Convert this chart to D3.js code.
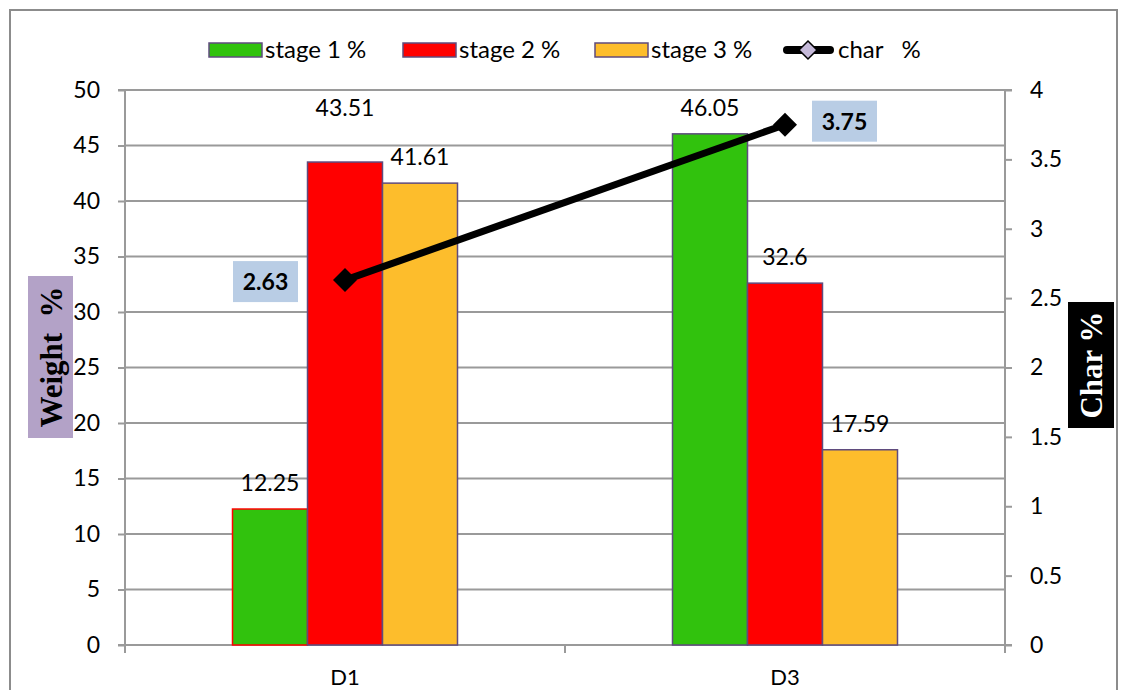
<!DOCTYPE html>
<html>
<head>
<meta charset="utf-8">
<script src="https://cdn.jsdelivr.net/npm/d3@7"></script>
<style>
  html, body { margin: 0; padding: 0; background: #fff; }
  svg { display: block; }
  text { font-family: Lato, "Open Sans", sans-serif; fill: #000; }
</style>
</head>
<body>
<svg id="chart" width="1122" height="690"></svg>
<script>
// ---- data ----
const categories = ["D1", "D3"];
const seriesNames = ["stage 1 %", "stage 2 %", "stage 3 %"];
const stage1 = [12.25, 46.05];
const stage2 = [43.51, 32.6];
const stage3 = [41.61, 17.59];
const charValues = [2.63, 3.75];
const charName = "char   %";
const leftTicks = [0, 5, 10, 15, 20, 25, 30, 35, 40, 45, 50];
const rightTicks = [0, 0.5, 1, 1.5, 2, 2.5, 3, 3.5, 4];

// ---- layout ----
const W = 1122, H = 690;
const plot = { left: 125, right: 1005, top: 90, bottom: 645 };
const colors = ["#31c20d", "#ff0000", "#fdbd2c"];
const barStroke = "#5f4b7e";
const gridColor = "#9a9a9a";
const serif = "'Liberation Serif', 'DejaVu Serif', serif";

const svg = d3.select("#chart");

// outer frame
svg.append("rect")
  .attr("x", 10).attr("y", 10).attr("width", 1107).attr("height", H + 10)
  .attr("fill", "none").attr("stroke", "#8c8c8c").attr("stroke-width", 2);

// scales
const x = d3.scaleBand().domain(categories).range([plot.left, plot.right]).padding(0);
const barW = 75;
const xSub = d3.scaleBand().domain(seriesNames).range([0, barW * 3]).padding(0);
const yL = d3.scaleLinear().domain([0, 50]).range([plot.bottom, plot.top]);
const yR = d3.scaleLinear().domain([0, 4]).range([plot.bottom, plot.top]);

// gridlines
svg.append("g").selectAll("line").data(leftTicks.filter(d => d > 0)).join("line")
  .attr("x1", plot.left).attr("x2", plot.right)
  .attr("y1", d => yL(d)).attr("y2", d => yL(d))
  .attr("stroke", gridColor).attr("stroke-width", 2);

// left axis
const axL = d3.axisLeft(yL).tickValues(leftTicks).tickSize(7).tickPadding(18).tickFormat(d3.format("d"));
const gL = svg.append("g").attr("transform", `translate(${plot.left},0)`).call(axL);
// right axis
const axR = d3.axisRight(yR).tickValues(rightTicks).tickSize(7).tickPadding(18).tickFormat(d => String(d));
const gR = svg.append("g").attr("transform", `translate(${plot.right},0)`).call(axR);
// bottom axis: ticks at band boundaries
const boundaries = [plot.left].concat(categories.map(c => x(c) + x.bandwidth()));
const gB = svg.append("g");
gB.append("line").attr("x1", plot.left - 7).attr("x2", plot.right + 7)
  .attr("y1", plot.bottom).attr("y2", plot.bottom)
  .attr("stroke", gridColor).attr("stroke-width", 2);
gB.selectAll("line.tk").data(boundaries).join("line").attr("class", "tk")
  .attr("x1", d => d).attr("x2", d => d)
  .attr("y1", plot.bottom).attr("y2", plot.bottom + 8)
  .attr("stroke", gridColor).attr("stroke-width", 2);
gB.selectAll("text").data(categories).join("text")
  .attr("x", d => x(d) + x.bandwidth() / 2).attr("y", 685)
  .attr("text-anchor", "middle").attr("font-size", 22).text(d => d);

[gL, gR].forEach(g => {
  g.select(".domain").attr("stroke", gridColor).attr("stroke-width", 2);
  g.selectAll(".tick line").attr("stroke", gridColor).attr("stroke-width", 2);
  g.selectAll(".tick text").attr("font-size", 23).style("font-family", "Lato, sans-serif").attr("fill", "#000");
});
gL.select(".domain").attr("d", `M-7,${plot.top}H0V${plot.bottom}H-7`);
gR.select(".domain").attr("d", `M7,${plot.top}H0V${plot.bottom}H7`);

// bars
const series = [stage1, stage2, stage3];
const groupOffset = (x.bandwidth() - barW * 3) / 2;
const bars = [];
categories.forEach((c, i) => {
  series.forEach((s, j) => {
    bars.push({ cat: c, ci: i, name: seriesNames[j], sj: j, value: s[i] });
  });
});
// first bar of D1 carries a red outline
const strokeFor = d => (d.ci === 0 && d.sj === 0) ? "#ff0000" : barStroke;
svg.append("g").selectAll("rect").data(bars).join("rect")
  .attr("x", d => x(d.cat) + groupOffset + xSub(d.name))
  .attr("y", d => yL(d.value))
  .attr("width", xSub.bandwidth())
  .attr("height", d => yL(0) - yL(d.value))
  .attr("fill", d => colors[d.sj])
  .attr("stroke", strokeFor).attr("stroke-width", 1.5);

// bar value labels (the tall D1 red one is lifted above the gridline)
const liftFor = d => (d.ci === 0 && d.sj === 1) ? 28 : 0;
svg.append("g").selectAll("text").data(bars).join("text")
  .attr("x", d => x(d.cat) + groupOffset + xSub(d.name) + xSub.bandwidth() / 2)
  .attr("y", d => yL(d.value) - 18 - liftFor(d))
  .attr("text-anchor", "middle").attr("font-size", 23)
  .text(d => String(d.value));

// char % line
const linePts = categories.map((c, i) => ({ x: x(c) + x.bandwidth() / 2, y: yR(charValues[i]), v: charValues[i] }));
svg.append("path").datum(linePts)
  .attr("d", d3.line().x(d => d.x).y(d => d.y))
  .attr("fill", "none").attr("stroke", "#000").attr("stroke-width", 7);
const diamond = r => `M0,${-r}L${r},0L0,${r}L${-r},0Z`;
svg.append("g").selectAll("path").data(linePts).join("path")
  .attr("transform", d => `translate(${d.x},${d.y})`)
  .attr("d", diamond(12)).attr("fill", "#000");

// char % value boxes: first on the left, second on the right of its point
const boxW = 65, boxH = 41;
const boxPos = [
  { dx: -47 - boxW, dy: -19 },
  { dx: 27, dy: -24 }
];
const lbl = svg.append("g").selectAll("g").data(linePts).join("g")
  .attr("transform", (d, i) => `translate(${d.x + boxPos[i].dx},${d.y + boxPos[i].dy})`);
lbl.append("rect").attr("width", boxW).attr("height", boxH).attr("fill", "#b9cde5");
lbl.append("text").attr("x", boxW / 2).attr("y", 29)
  .attr("text-anchor", "middle").attr("font-size", 23).attr("font-weight", "bold")
  .text(d => d.v.toFixed(2));

// legend
const legendItems = [
  { x: 209, name: seriesNames[0], color: colors[0] },
  { x: 403, name: seriesNames[1], color: colors[1] },
  { x: 595, name: seriesNames[2], color: colors[2] }
];
const lg = svg.append("g");
legendItems.forEach(it => {
  lg.append("rect").attr("x", it.x).attr("y", 43).attr("width", 53).attr("height", 14)
    .attr("fill", it.color).attr("stroke", barStroke).attr("stroke-width", 1.5);
  lg.append("text").attr("x", it.x + 56).attr("y", 58).attr("font-size", 24).text(it.name);
});
lg.append("line").attr("x1", 787).attr("x2", 830).attr("y1", 50).attr("y2", 50)
  .attr("stroke", "#000").attr("stroke-width", 8).attr("stroke-linecap", "round");
lg.append("path").attr("transform", "translate(808,50)").attr("d", diamond(9))
  .attr("fill", "#c5b9d9").attr("stroke", "#000").attr("stroke-width", 1.5);
lg.append("text").attr("x", 838).attr("y", 58).attr("font-size", 24)
  .style("white-space", "pre").text(charName);

// axis titles
const lt = svg.append("g").attr("transform", "translate(51,357)");
lt.append("rect").attr("x", -23).attr("y", -81).attr("width", 45).attr("height", 162).attr("fill", "#b3a2c7");
lt.append("text").attr("transform", "rotate(-90)").attr("y", 11)
  .attr("text-anchor", "middle").style("font-family", serif)
  .attr("font-weight", "bold").attr("font-size", 31)
  .style("white-space", "pre").text("Weight  %");

const rt = svg.append("g").attr("transform", "translate(1091,365)");
rt.append("rect").attr("x", -23).attr("y", -63).attr("width", 46).attr("height", 126).attr("fill", "#000");
rt.append("text").attr("transform", "rotate(-90)").attr("y", 11)
  .attr("text-anchor", "middle").style("font-family", serif)
  .attr("font-weight", "bold").attr("font-size", 31).style("fill", "#fff")
  .text("Char %");
</script>
</body>
</html>
